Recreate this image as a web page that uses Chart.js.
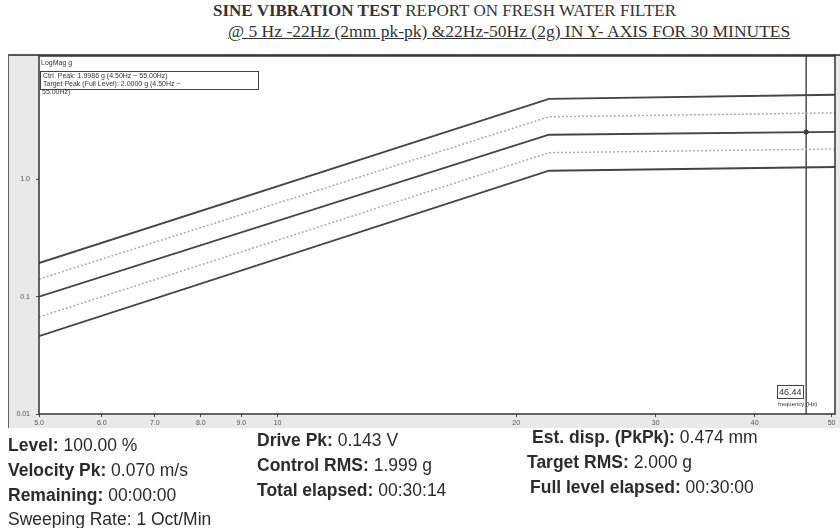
<!DOCTYPE html>
<html>
<head>
<meta charset="utf-8">
<script src="https://cdn.jsdelivr.net/npm/chart.js@4/dist/chart.umd.min.js"></script>
<style>
  html, body { margin: 0; padding: 0; background: #fff; }
  body { width: 840px; height: 528px; position: relative; overflow: hidden; font-family: 'Liberation Sans', Arial, sans-serif; color: #2b2b2b; }
  .title { position: absolute; font-family: 'Liberation Serif', 'DejaVu Serif', serif; color: #333; white-space: nowrap; }
  .frame { position: absolute; left: 8px; top: 54px; width: 832px; height: 374px; background: #e9e9e9; border-top: 2px solid #555; border-left: 1px solid #666; box-sizing: border-box; }
  #chart { position: absolute; left: 0; top: 0; }
  .small { position: absolute; font-family: 'Liberation Sans', Arial, sans-serif; font-size: 7px; color: #333; white-space: nowrap; line-height: 8px; }
  .info { position: absolute; font-size: 17.5px; white-space: nowrap; transform-origin: left top; }
  .info b { font-weight: bold; }
</style>
</head>
<body>
<div class="title" style="left:213px; top:1px; font-size:17px;"><b>SINE VIBRATION TEST</b> REPORT ON FRESH WATER FILTER</div>
<div class="title" style="left:228px; top:21px; font-size:17.5px; text-decoration: underline;">@ 5 Hz -22Hz (2mm pk-pk) &amp;22Hz-50Hz (2g) IN Y- AXIS FOR 30 MINUTES</div>
<div class="frame"></div>
<canvas id="chart" width="840" height="528"></canvas>
<div class="small" style="left:41px; top:59px;">LogMag g</div>
<div class="small" style="left:40px; top:71px; border:1px solid #444; padding:0 2px; width:213px; height:17px;">Ctrl. Peak: 1.9986 g (4.50Hz ~ 55.00Hz)<br>Target Peak (Full Level): 2.0000 g (4.50Hz ~</div>
<div class="small" style="left:42px; top:88px;">55.00Hz)</div>
<div class="small" style="left:777px; top:385px; border:1px solid #444; padding:1px 1px; font-size:9px; line-height:10px;">46.44</div>
<div class="small" style="left:778px; top:400px; font-size:6px;">frequency (Hz)</div>

<div class="info" style="left:8px; top:435px;"><b>Level:</b> 100.00 %</div>
<div class="info" style="left:8px; top:460px;"><b>Velocity Pk:</b> 0.070 m/s</div>
<div class="info" style="left:8px; top:485px;"><b>Remaining:</b> 00:00:00</div>
<div class="info" style="left:8px; top:509px;">Sweeping Rate: 1 Oct/Min</div>
<div class="info" style="left:257px; top:430px;"><b>Drive Pk:</b> 0.143 V</div>
<div class="info" style="left:257px; top:455px;"><b>Control RMS:</b> 1.999 g</div>
<div class="info" style="left:257px; top:480px;"><b>Total elapsed:</b> 00:30:14</div>
<div class="info" style="left:532px; top:427px;"><b>Est. disp. (PkPk):</b> 0.474 mm</div>
<div class="info" style="left:527px; top:452px;"><b>Target RMS:</b> 2.000 g</div>
<div class="info" style="left:530px; top:477px;"><b>Full level elapsed:</b> 00:30:00</div>

<script>
// profile break points (Hz)
const freq = [5, 22, 50.5];
// acceleration (g)
const abortHigh = [0.193, 4.84, 5.24];
const alarmHigh = [0.141, 3.40, 3.67];
const control   = [0.100, 2.39, 2.53];
const alarmLow  = [0.067, 1.68, 1.81];
const abortLow  = [0.046, 1.18, 1.27];

// cursor
const cursorFreq = 46.44;
const cursorValue = 2.52;

// axes
const xTicks = [5, 6, 7, 8, 9, 10, 20, 30, 40, 50];
const xLabels = ['5.0', '6.0', '7.0', '8.0', '9.0', '10', '20', '30', '40', '50'];
const yTicks = [0.01, 0.1, 1];
const yLabels = ['0.01', '0.1', '1.0'];

const toPoints = (vals) => freq.map((f, i) => ({ x: f, y: vals[i] }));

const solid = (vals) => ({
  data: toPoints(vals),
  borderColor: '#444',
  borderWidth: 1.8,
  pointRadius: 0,
  tension: 0,
});
const dotted = (vals) => ({
  data: toPoints(vals),
  borderColor: '#aaa',
  borderWidth: 1.5,
  borderDash: [2, 2],
  pointRadius: 0,
  tension: 0,
});

const plotBg = {
  id: 'plotBg',
  beforeDraw(chart) {
    const { ctx, chartArea: a } = chart;
    ctx.save();
    ctx.fillStyle = '#ffffff';
    ctx.fillRect(a.left, a.top, a.right - a.left, a.bottom - a.top);
    ctx.restore();
  },
  afterDraw(chart) {
    const { ctx, chartArea: a } = chart;
    ctx.save();
    ctx.strokeStyle = '#333';
    ctx.lineWidth = 1.5;
    ctx.strokeRect(a.left, a.top, a.right - a.left, a.bottom - a.top);
    ctx.restore();
  },
};

new Chart(document.getElementById('chart').getContext('2d'), {
  type: 'line',
  data: {
    datasets: [
      solid(abortHigh),
      dotted(alarmHigh),
      solid(control),
      dotted(alarmLow),
      solid(abortLow),
      {
        data: [{ x: cursorFreq, y: 0.01 }, { x: cursorFreq, y: 11.2 }],
        borderColor: '#333',
        borderWidth: 1.3,
        pointRadius: 0,
      },
      {
        data: [{ x: cursorFreq, y: cursorValue }],
        showLine: false,
        pointRadius: 2.5,
        pointBackgroundColor: '#333',
        pointBorderWidth: 0,
      },
    ],
  },
  options: {
    responsive: false,
    animation: false,
    layout: { padding: { left: 0, top: 56, right: 5, bottom: 100 } },
    plugins: { legend: { display: false }, tooltip: { enabled: false } },
    scales: {
      x: {
        type: 'logarithmic',
        min: 5,
        max: 50.5,
        afterBuildTicks: (s) => { s.ticks = xTicks.map((v) => ({ value: v })); },
        afterFit: (s) => { s.height = 14; },
        ticks: {
          autoSkip: false,
          maxRotation: 0,
          padding: 2,
          color: '#555',
          font: { family: 'Liberation Sans', size: 7 },
          callback: (v) => xLabels[xTicks.indexOf(v)],
        },
        grid: { display: true, drawOnChartArea: false, tickLength: 3, color: '#444' },
        border: { display: false },
      },
      y: {
        type: 'logarithmic',
        min: 0.01,
        max: 11.2,
        afterBuildTicks: (s) => { s.ticks = yTicks.map((v) => ({ value: v })); },
        afterFit: (s) => { s.width = 39; },
        ticks: {
          padding: 6,
          color: '#555',
          font: { family: 'Liberation Sans', size: 7 },
          callback: (v) => yLabels[yTicks.indexOf(v)],
        },
        grid: { display: true, drawOnChartArea: false, tickLength: 3, color: '#444' },
        border: { display: false },
      },
    },
  },
  plugins: [plotBg],
});
</script>
</body>
</html>
